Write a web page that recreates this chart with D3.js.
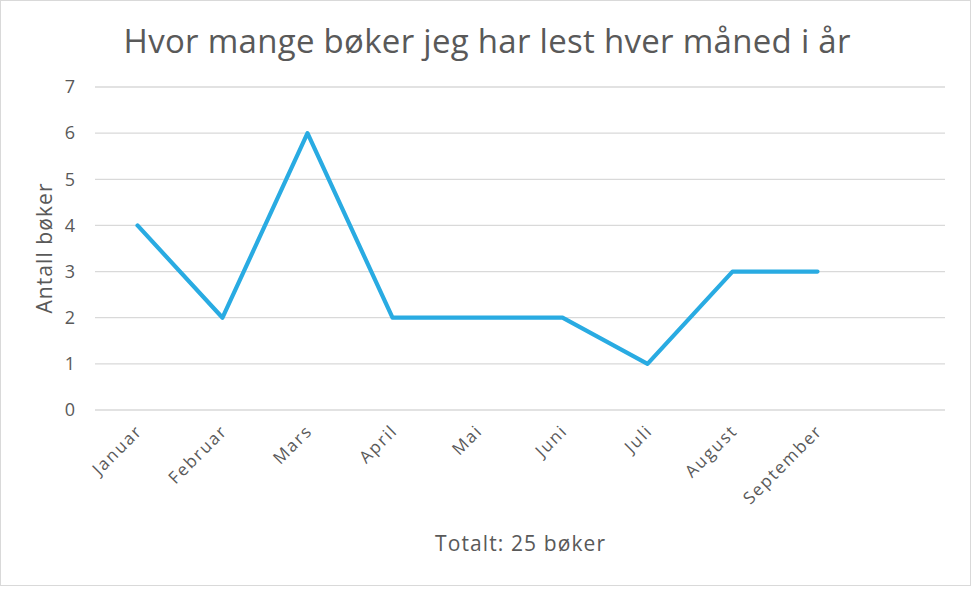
<!DOCTYPE html>
<html><head><meta charset="utf-8">
<script src="https://cdn.jsdelivr.net/npm/d3@7"></script>
<style>body{margin:0;background:#fff}svg{display:block}text{font-family:"Open Sans",sans-serif;fill:#595959}</style>
</head><body>
<script>
const months = ["Januar","Februar","Mars","April","Mai","Juni","Juli","August","September",""];
const books = [4,2,6,2,2,2,1,3,3,null];
const yTicks = [0,1,2,3,4,5,6,7];
const title = "Hvor mange bøker jeg har lest hver måned i år";
const yTitle = "Antall bøker";
const xTitle = "Totalt: 25 bøker";

const W=973,H=589;
const m={l:95,r:28,t:87,b:179};
const svg=d3.select("body").append("svg").attr("width",W).attr("height",H);
svg.append("rect").attr("x",0.5).attr("y",0.5).attr("width",970).attr("height",585).attr("fill","#fff").attr("stroke","#d9d9d9");
const x=d3.scaleBand().domain(d3.range(months.length)).range([m.l,W-m.r]);
const y=d3.scaleLinear().domain([0,7]).range([H-m.b,m.t]);

const g=svg.append("g");
g.selectAll(".grid").data(yTicks).join("line").attr("x1",m.l).attr("x2",W-m.r)
 .attr("y1",d=>y(d)).attr("y2",d=>y(d)).attr("stroke","#d9d9d9").attr("stroke-width",1.3);
g.selectAll(".yl").data(yTicks).join("text").attr("x",m.l-20).attr("y",d=>y(d)).attr("dy","0.35em")
 .attr("text-anchor","end").attr("font-size",18).text(d=>d);

g.selectAll(".xl").data(months).join("text")
 .attr("transform",(d,i)=>`translate(${x(i)+x.bandwidth()/2+6},${y(0)+22}) rotate(-45)`)
 .attr("text-anchor","end").attr("font-size",17).attr("letter-spacing","1.8px").text(d=>d);

const line=d3.line().defined(d=>d!=null).x((d,i)=>x(i)+x.bandwidth()/2).y(d=>y(d));
g.append("path").datum(books).attr("d",line).attr("fill","none").attr("stroke","#29abe2")
 .attr("stroke-width",4.2).attr("stroke-linejoin","round").attr("stroke-linecap","round");

svg.append("text").attr("x",487).attr("y",53).attr("text-anchor","middle").attr("font-size",33)
 .attr("textLength",727).attr("lengthAdjust","spacing").text(title);
svg.append("text").attr("transform",`translate(52,${(y(0)+y(7))/2}) rotate(-90)`).attr("text-anchor","middle").attr("font-size",21)
 .attr("textLength",130).attr("lengthAdjust","spacing").text(yTitle);
svg.append("text").attr("x",(m.l+W-m.r)/2).attr("y",551).attr("text-anchor","middle").attr("font-size",21)
 .attr("textLength",170).attr("lengthAdjust","spacing").text(xTitle);
</script>
</body></html>
